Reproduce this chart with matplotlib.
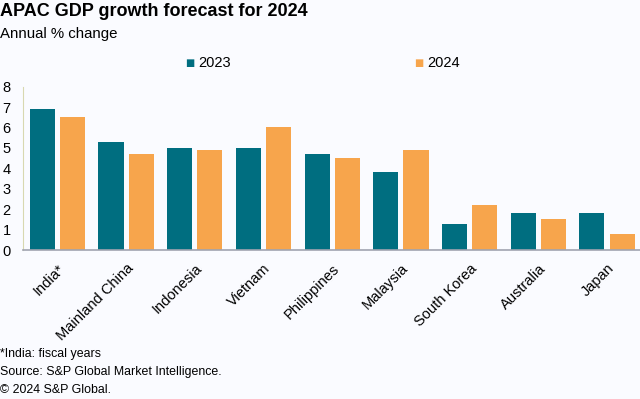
import numpy as np
import matplotlib.pyplot as plt

countries = ['India*', 'Mainland China', 'Indonesia', 'Vietnam', 'Philippines',
             'Malaysia', 'South Korea', 'Australia', 'Japan']
gdp_2023 = [6.9, 5.3, 5.0, 5.0, 4.7, 3.8, 1.3, 1.8, 1.8]
gdp_2024 = [6.5, 4.7, 4.9, 6.0, 4.5, 4.9, 2.2, 1.5, 0.8]
years = ['2023', '2024']
yticks = [0, 1, 2, 3, 4, 5, 6, 7, 8]

teal = '#006e80'
orange = '#f7a54c'
bg = '#fafbff'

fig = plt.figure(figsize=(6.4, 3.99), dpi=100, facecolor=bg)
ax = fig.add_axes([0.036, 0.373, 0.964, 0.41], facecolor=bg)

x = np.arange(len(countries))
w = 0.365
off = 0.22
ax.bar(x - off, gdp_2023, w, color=teal, label=years[0], zorder=2)
ax.bar(x + off, gdp_2024, w, color=orange, label=years[1], zorder=2)

ax.set_xlim(-0.5, 8.48)
ax.set_ylim(0, 8)
ax.set_yticks(yticks)
ax.set_yticklabels([str(t) for t in yticks], fontsize=10.5, family='Liberation Sans')
ax.tick_params(axis='y', length=0, pad=9)
ax.tick_params(axis='x', length=0, pad=8)
ax.set_xticks(x)
ax.set_xticklabels(countries, rotation=45, ha='right', rotation_mode='anchor',
                   fontsize=10.5, family='Liberation Sans')

for s in ['top', 'right']:
    ax.spines[s].set_visible(False)
ax.spines['left'].set_color('#d8d8b0')
ax.spines['bottom'].set_color('#a0a4b0')
ax.spines['bottom'].set_linewidth(1.2)

# legend as two separate entries spread apart
fig.text(190 / 640, 1 - 63 / 399, '\u25a0', color=teal, fontsize=7, va='center', ha='center')
fig.text(198 / 640, 1 - 63 / 399, years[0], fontsize=10.5, va='center', family='Liberation Sans')
fig.text(419 / 640, 1 - 63 / 399, '\u25a0', color=orange, fontsize=7, va='center', ha='center')
fig.text(427 / 640, 1 - 63 / 399, years[1], fontsize=10.5, va='center', family='Liberation Sans')

fig.text(0.0, 1 - 12 / 399, 'APAC GDP growth forecast for 2024', fontsize=13,
         fontweight='bold', va='center', family='Liberation Sans')
fig.text(0.0, 1 - 34 / 399, 'Annual % change', fontsize=10.8, va='center', family='Liberation Sans')

fig.text(0.0, 1 - 354 / 399, '*India: fiscal years', fontsize=8.9, va='center', family='Liberation Sans')
fig.text(0.0, 1 - 372 / 399, 'Source: S&P Global Market Intelligence.', fontsize=8.9, va='center',
         family='Liberation Sans')
fig.text(0.0, 1 - 390 / 399, '\u00a9 2024 S&P Global.', fontsize=8.9, va='center', family='Liberation Sans')

fig.savefig('out.png', dpi=100, facecolor=bg)
